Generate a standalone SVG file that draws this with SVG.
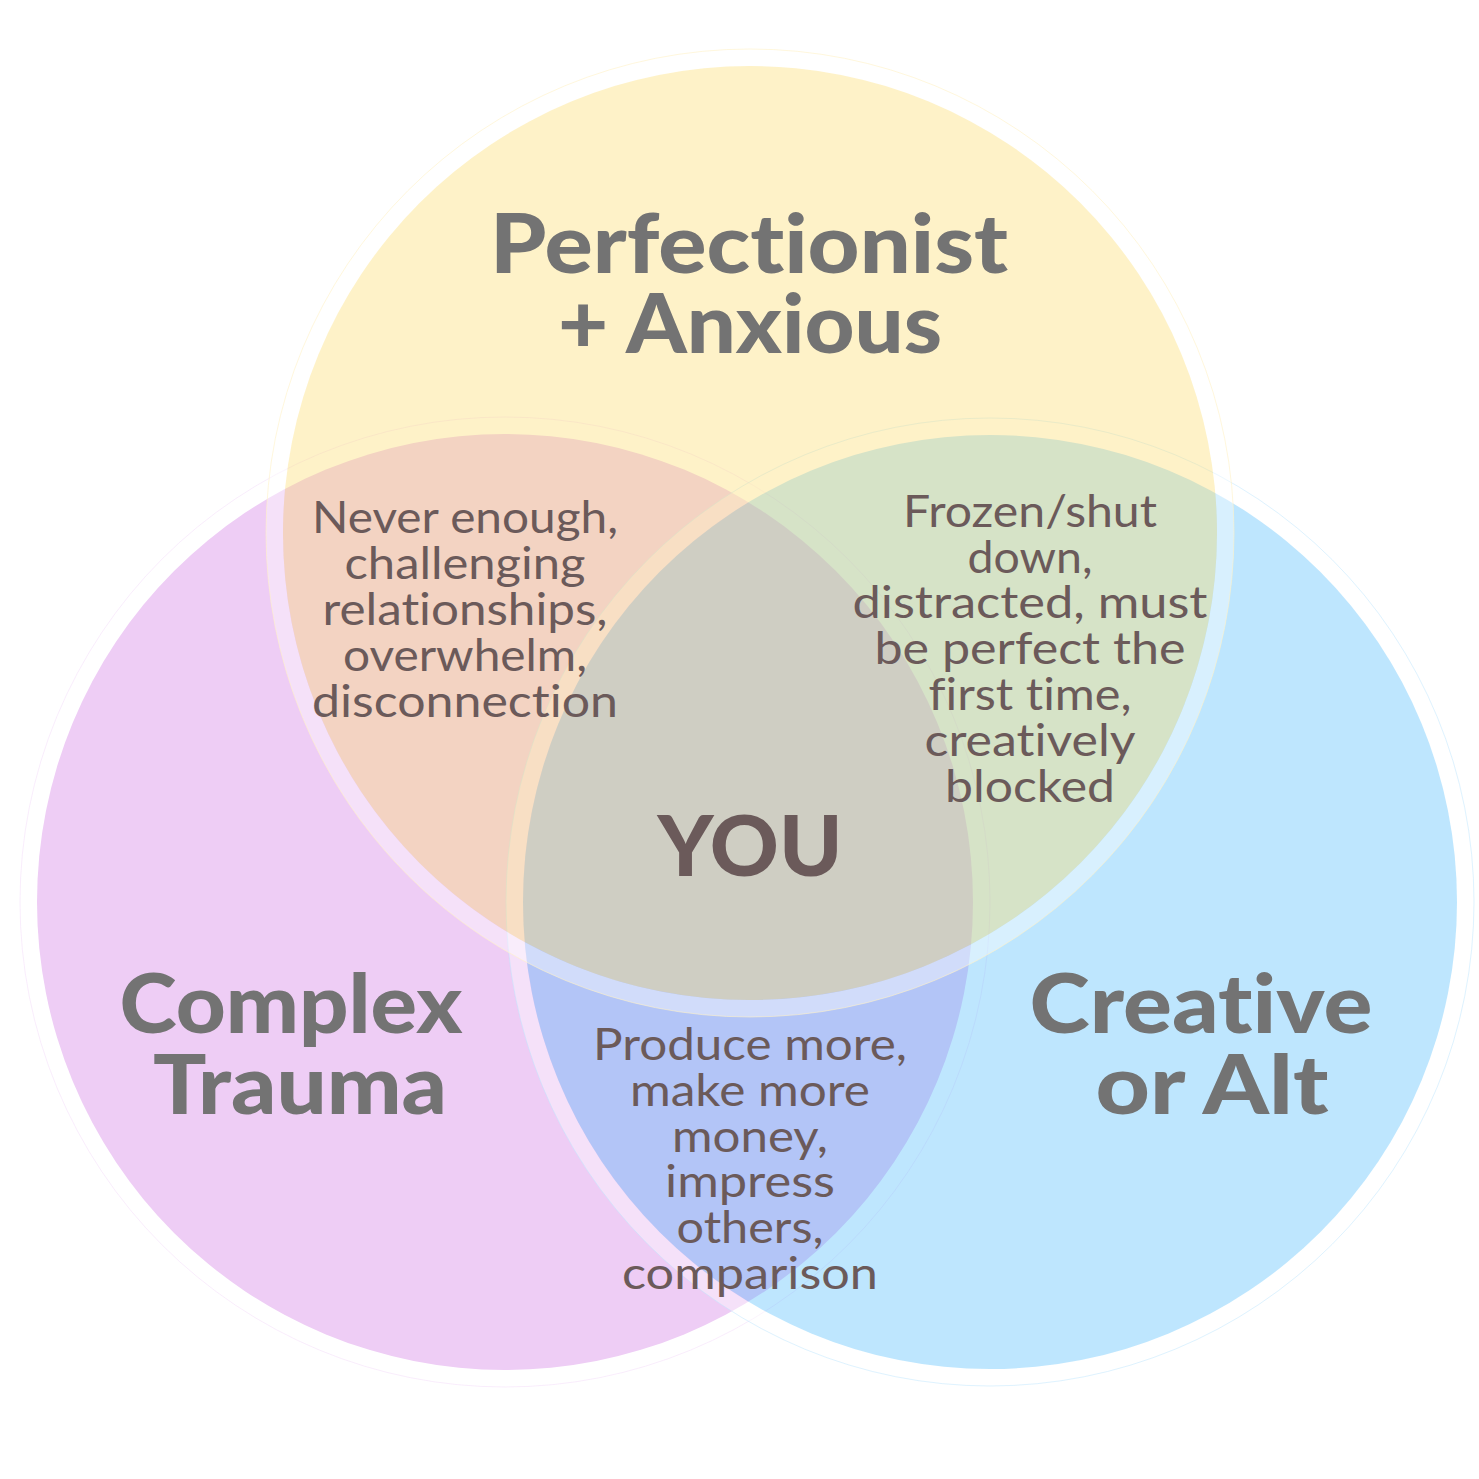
<svg xmlns="http://www.w3.org/2000/svg" width="1479" height="1479" viewBox="0 0 1479 1479">
  <style>
    .halo { fill: none; stroke: #ffffff; stroke-opacity: 0.4; stroke-width: 17; }
    .title { font-family: "Lato", "Liberation Sans", sans-serif; font-weight: 900; font-size: 81px; fill: #737373; text-anchor: middle; font-variant-ligatures: none; }
    .you { font-family: "Lato", "Liberation Sans", sans-serif; font-weight: 900; font-size: 84px; fill: #6b5a5a; text-anchor: middle; }
    .body { font-family: "Lato", "Liberation Sans", sans-serif; font-weight: 400; font-size: 44px; fill: #6b5a5a; text-anchor: middle; font-variant-ligatures: none; }
  </style>
  <rect width="1479" height="1479" fill="#ffffff"/>

  <g id="circle-complex-trauma">
    <circle cx="505" cy="902" r="485" fill="none" stroke="#eecbf5" stroke-opacity="0.35" stroke-width="1"/>
    <circle cx="505" cy="902" r="468" fill="#eecdf5"/>
  </g>

  <g id="circle-creative">
    <circle cx="990" cy="902" r="475.5" class="halo"/>
    <circle cx="990" cy="902" r="484" fill="none" stroke="#bee6fe" stroke-opacity="0.5" stroke-width="1"/>
    <circle cx="990" cy="902" r="467" fill="#45b8fc" fill-opacity="0.35"/>
  </g>

  <g id="circle-perfectionist">
    <circle cx="750" cy="533" r="475.5" class="halo"/>
    <circle cx="750" cy="533" r="484" fill="none" stroke="#fff2c6" stroke-opacity="0.6" stroke-width="1"/>
    <circle cx="750" cy="533" r="467" fill="#fdde72" fill-opacity="0.39"/>
  </g>

  <g id="labels">
    <g id="label-perfectionist">
      <text class="title" x="749" y="273" textLength="518" lengthAdjust="spacingAndGlyphs">Perfectionist</text>
      <text class="title" x="750" y="353" textLength="384" lengthAdjust="spacingAndGlyphs">+ Anxious</text>
    </g>
    <g id="label-complex-trauma">
      <text class="title" x="291" y="1033" textLength="343" lengthAdjust="spacingAndGlyphs">Complex</text>
      <text class="title" x="300" y="1114" textLength="294" lengthAdjust="spacingAndGlyphs">Trauma</text>
    </g>
    <g id="label-creative">
      <text class="title" x="1201" y="1033" textLength="343" lengthAdjust="spacingAndGlyphs">Creative</text>
      <text class="title" x="1212" y="1114" textLength="233" lengthAdjust="spacingAndGlyphs">or Alt</text>
    </g>
    <g id="label-you">
      <text class="you" x="750" y="876" textLength="185" lengthAdjust="spacingAndGlyphs">YOU</text>
    </g>
    <g id="overlap-perfectionist-trauma">
      <text class="body" x="465" y="533" textLength="306" lengthAdjust="spacingAndGlyphs">Never enough,</text>
      <text class="body" x="465" y="579" textLength="241" lengthAdjust="spacingAndGlyphs">challenging</text>
      <text class="body" x="465" y="625" textLength="285" lengthAdjust="spacingAndGlyphs">relationships,</text>
      <text class="body" x="465" y="671" textLength="244" lengthAdjust="spacingAndGlyphs">overwhelm,</text>
      <text class="body" x="465" y="717" textLength="306" lengthAdjust="spacingAndGlyphs">disconnection</text>
    </g>
    <g id="overlap-perfectionist-creative">
      <text class="body" x="1030" y="527" textLength="254" lengthAdjust="spacingAndGlyphs">Frozen/shut</text>
      <text class="body" x="1030" y="573" textLength="125" lengthAdjust="spacingAndGlyphs">down,</text>
      <text class="body" x="1030" y="618" textLength="355" lengthAdjust="spacingAndGlyphs">distracted, must</text>
      <text class="body" x="1030" y="664" textLength="311" lengthAdjust="spacingAndGlyphs">be perfect the</text>
      <text class="body" x="1030" y="710" textLength="203" lengthAdjust="spacingAndGlyphs">first time,</text>
      <text class="body" x="1030" y="756" textLength="211" lengthAdjust="spacingAndGlyphs">creatively</text>
      <text class="body" x="1030" y="802" textLength="170" lengthAdjust="spacingAndGlyphs">blocked</text>
    </g>
    <g id="overlap-trauma-creative">
      <text class="body" x="750" y="1060" textLength="314" lengthAdjust="spacingAndGlyphs">Produce more,</text>
      <text class="body" x="750" y="1106" textLength="240" lengthAdjust="spacingAndGlyphs">make more</text>
      <text class="body" x="750" y="1152" textLength="156" lengthAdjust="spacingAndGlyphs">money,</text>
      <text class="body" x="750" y="1197" textLength="170" lengthAdjust="spacingAndGlyphs">impress</text>
      <text class="body" x="750" y="1243" textLength="147" lengthAdjust="spacingAndGlyphs">others,</text>
      <text class="body" x="750" y="1289" textLength="256" lengthAdjust="spacingAndGlyphs">comparison</text>
    </g>
  </g>
</svg>
